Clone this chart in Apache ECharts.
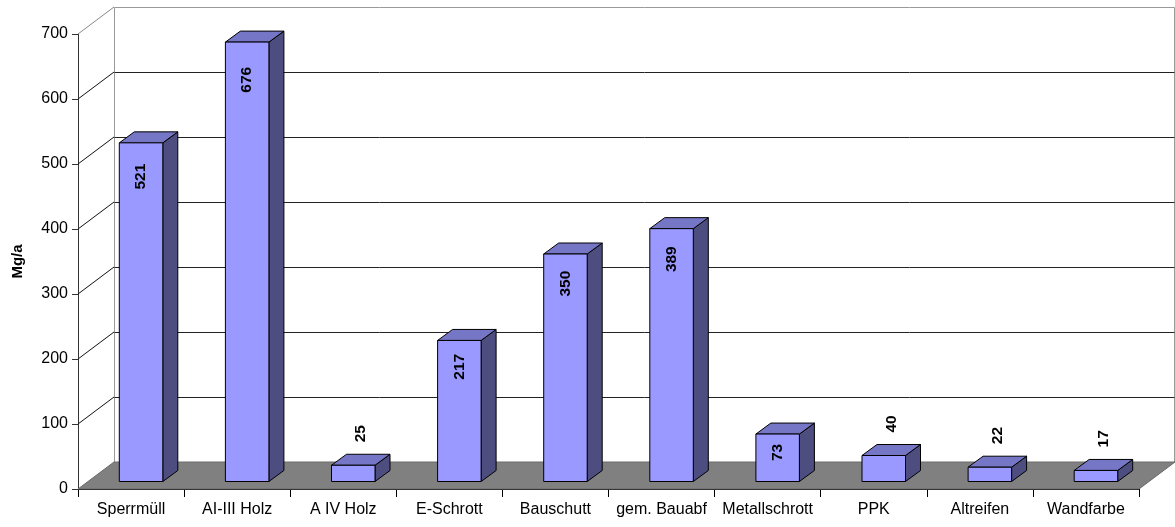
<!DOCTYPE html>
<html><head><meta charset="utf-8">
<script src="https://cdn.jsdelivr.net/npm/echarts@6/dist/echarts.min.js"></script>
<style>html,body{margin:0;padding:0;background:#fff}#chart{width:1175px;height:527px}</style>
</head><body><div id="chart"></div>
<script>
// Annual quantities per waste fraction
const categories = ['Sperrmüll', 'AI-III Holz', 'A IV Holz', 'E-Schrott', 'Bauschutt', 'gem. Bauabf', 'Metallschrott', 'PPK', 'Altreifen', 'Wandfarbe'];
const values = [521, 676, 25, 217, 350, 389, 73, 40, 22, 17];
const yTicks = [0, 100, 200, 300, 400, 500, 600, 700];
const yTitle = 'Mg/a';

// pseudo-3D projection: full floor depth, and where the bar slab sits inside it
const DEPTH = [36, -27];
const BAR_FRONT = [10, -7.5];
const BAR_DEPTH = [15, -11];
const BAR_WIDTH_RATIO = 0.41;
const FONT = '"Liberation Sans", Arial, sans-serif';

const crisp = v => Math.round(v) + 0.5;

function renderWalls(params, api) {
  const cs = params.coordSys;
  const x0 = cs.x, x1 = cs.x + cs.width;
  const [dx, dy] = DEPTH;
  const yBase = api.coord([0, yTicks[0]])[1];
  const yTop = api.coord([0, yTicks[yTicks.length - 1]])[1];
  const children = [];
  // back wall
  children.push({
    type: 'polygon',
    shape: { points: [[crisp(x0 + dx), crisp(yTop + dy)], [crisp(x1 + dx) - 1, crisp(yTop + dy)], [crisp(x1 + dx) - 1, crisp(yBase + dy)], [crisp(x0 + dx), crisp(yBase + dy)]] },
    style: { fill: '#fff', stroke: '#999', lineWidth: 1 }
  });
  // gridlines on the back wall and the left side wall
  yTicks.forEach((v, i) => {
    if (i === 0) return;
    const y = api.coord([0, v])[1];
    const last = i === yTicks.length - 1;
    if (!last) {
      children.push({
        type: 'line',
        shape: { x1: crisp(x0 + dx), y1: crisp(y + dy), x2: crisp(x1 + dx) - 1, y2: crisp(y + dy) },
        style: { stroke: '#222', lineWidth: 1 }
      });
    }
    children.push({
      type: 'line',
      shape: { x1: x0, y1: y, x2: x0 + dx, y2: y + dy },
      style: { stroke: last ? '#888' : '#111', lineWidth: 1 }
    });
  });
  // floor
  children.push({
    type: 'polygon',
    shape: { points: [[x0, yBase], [x1, yBase], [x1 + dx, yBase + dy], [x0 + dx, yBase + dy]] },
    style: { fill: '#808080', stroke: '#6a6a6a', lineWidth: 1 }
  });
  return { type: 'group', children };
}

function renderBar(params, api) {
  const idx = api.value(0), val = api.value(1);
  const top = api.coord([idx, val]);
  const base = api.coord([idx, 0]);
  const bw = api.size([1, 0])[0] * BAR_WIDTH_RATIO;
  const fx = top[0] - bw / 2 + BAR_FRONT[0];
  const fyB = base[1] + BAR_FRONT[1];
  const fyT = top[1] + BAR_FRONT[1];
  const h = fyB - fyT;
  const [ddx, ddy] = BAR_DEPTH;
  const edge = { stroke: '#000', lineWidth: 1, lineJoin: 'round' };
  const children = [
    { type: 'polygon', shape: { points: [[fx + bw, fyT], [fx + bw + ddx, fyT + ddy], [fx + bw + ddx, fyB + ddy], [fx + bw, fyB]] },
      style: Object.assign({ fill: '#4d4d80' }, edge) },
    { type: 'polygon', shape: { points: [[fx, fyT], [fx + bw, fyT], [fx + bw + ddx, fyT + ddy], [fx + ddx, fyT + ddy]] },
      style: Object.assign({ fill: '#7676c6' }, edge) },
    { type: 'rect', shape: { x: fx, y: fyT, width: bw, height: h },
      style: Object.assign({ fill: '#9999ff' }, edge) }
  ];
  // value label: inside the top of tall bars, above short ones
  const inside = h > 40;
  children.push({
    type: 'text',
    x: inside ? fx + bw / 2 : fx + bw / 2 + ddx / 2,
    y: inside ? fyT + 8 + h * 0.038 : fyT - 23,
    rotation: Math.PI / 2,
    style: {
      text: String(val),
      align: inside ? 'right' : 'left',
      verticalAlign: 'middle',
      font: 'bold 15.5px ' + FONT,
      fill: '#000'
    }
  });
  return { type: 'group', children };
}

const chart = echarts.init(document.getElementById('chart'), null, { renderer: 'canvas' });
chart.setOption({
  backgroundColor: '#fff',
  animation: false,
  grid: { left: 78, right: 36, top: 34, bottom: 38, containLabel: false },
  xAxis: {
    type: 'category',
    data: categories,
    boundaryGap: true,
    axisLine: { show: true, lineStyle: { color: '#000', width: 1 } },
    axisTick: { show: true, length: 8, lineStyle: { color: '#000' } },
    axisLabel: { color: '#000', fontSize: 16, fontFamily: FONT, margin: 13, interval: 0 },
    splitLine: { show: false }
  },
  yAxis: {
    type: 'value',
    min: yTicks[0],
    max: yTicks[yTicks.length - 1],
    interval: 100,
    name: yTitle,
    nameLocation: 'middle',
    nameGap: 53,
    nameRotate: 90,
    nameTextStyle: { color: '#000', fontSize: 15, fontWeight: 'bold', fontFamily: FONT },
    axisLine: { show: true, lineStyle: { color: '#333', width: 1 } },
    axisTick: { show: true, length: 6, lineStyle: { color: '#333' } },
    axisLabel: { color: '#000', fontSize: 16, fontFamily: FONT, margin: 10 },
    splitLine: { show: false }
  },
  series: [
    {
      type: 'custom',
      name: 'walls',
      renderItem: renderWalls,
      data: [[0, 0]],
      silent: true,
      z: 1
    },
    {
      type: 'custom',
      name: yTitle,
      renderItem: renderBar,
      data: values.map((v, i) => [i, v]),
      encode: { x: 0, y: 1 },
      z: 2
    }
  ]
});
</script>
</body></html>
